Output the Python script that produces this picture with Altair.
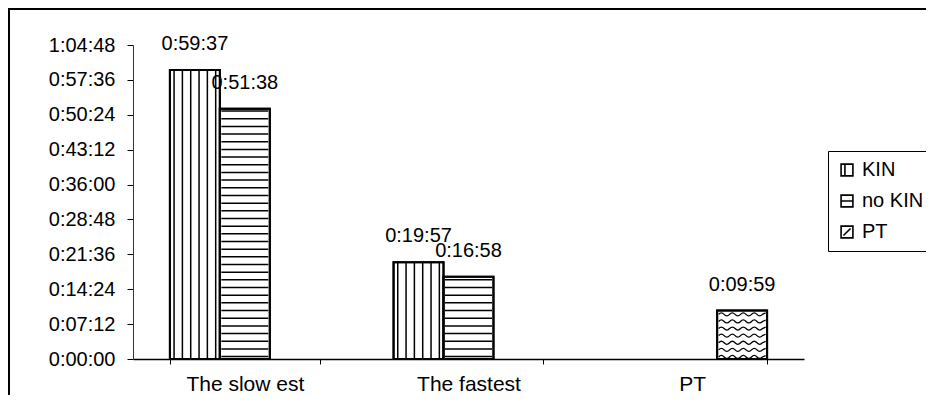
import altair as alt
import pandas as pd

# ---------------- data ----------------
categories = ["The slow est", "The fastest", "PT"]
series = ["KIN", "no KIN", "PT"]
kin_times = ["0:59:37", "0:19:57", None]
no_kin_times = ["0:51:38", "0:16:58", None]
pt_times = [None, None, "0:09:59"]
y_tick_labels = ["0:00:00", "0:07:12", "0:14:24", "0:21:36", "0:28:48",
                 "0:36:00", "0:43:12", "0:50:24", "0:57:36", "1:04:48"]


def to_sec(s):
    h, m, sec = (int(p) for p in s.split(":"))
    return h * 3600 + m * 60 + sec


rows = []
for name, times in zip(series, [kin_times, no_kin_times, pt_times]):
    for cat, t in zip(categories, times):
        if t is None:
            continue
        rows.append({"category": cat, "series": name, "seconds": to_sec(t), "label": t})
bars = pd.DataFrame(rows)
y_ticks = [to_sec(t) for t in y_tick_labels]

# ---------------- pattern helpers (style only) ----------------
V_SLOTS = 6          # vertical stripes per bar
H_STEP = 95          # seconds between horizontal stripes
H_START = 30
W_STEP = 88          # seconds between wave rows
W_START = 25

vrows, hrows, wrows = [], [], []
for r in rows:
    si = series.index(r["series"])
    if r["series"] == "KIN":
        for j in range(V_SLOTS):
            vrows.append({"category": r["category"], "slot": si * V_SLOTS + j, "seconds": r["seconds"]})
    elif r["series"] == "no KIN":
        y = H_START
        while y < r["seconds"] - 25:
            hrows.append({"category": r["category"], "series": r["series"], "seconds": y})
            y += H_STEP
    else:
        y = W_START
        while y < r["seconds"] - 40:
            wrows.append({"category": r["category"], "series": r["series"], "seconds": y})
            y += W_STEP
vstripes = pd.DataFrame(vrows)
hstripes = pd.DataFrame(hrows)
waves = pd.DataFrame(wrows)

FONT = "Liberation Sans"
W, H = 671, 314

x_enc = alt.X("category:N", sort=categories,
              scale=alt.Scale(domain=categories, paddingInner=0.33, paddingOuter=0.165),
              axis=alt.Axis(title=None, tickBand="extent", tickSize=5, labelAngle=0,
                            labelFont=FONT, labelFontSize=21, labelColor="black",
                            labelPadding=9, domainColor="black", domainWidth=1.5,
                            tickColor="black", tickWidth=1, grid=False))
label_expr = ("floor(datum.value/3600) + ':' + (floor(datum.value/60)%60 < 10 ? '0' : '') + "
              "floor(datum.value/60)%60 + ':' + (datum.value%60 < 10 ? '0' : '') + datum.value%60")
y_scale = alt.Scale(domain=[0, y_ticks[-1]], nice=False, zero=True)
y_enc = alt.Y("seconds:Q", scale=y_scale,
              axis=alt.Axis(title=None, values=y_ticks, labelExpr=label_expr, grid=False,
                            tickSize=6, tickColor="black", domainColor="#333333", domainWidth=1,
                            labelFont=FONT, labelFontSize=20, labelColor="black",
                            labelPadding=12))
xoff_series = alt.XOffset("series:N", scale=alt.Scale(type="band", domain=series,
                                                      paddingInner=0, paddingOuter=0))

one = pd.DataFrame({"f": [0]})
frame_top = alt.Chart(one).mark_rule(color="black", strokeWidth=2, clip=False).encode(
    x=alt.value(-125), x2=alt.value(W + 300), y=alt.value(-36))
frame_left = alt.Chart(one).mark_rule(color="black", strokeWidth=2, clip=False).encode(
    x=alt.value(-124), y=alt.value(-37), y2=alt.value(H + 200))

base_bars = alt.Chart(bars).mark_bar(fill="white", stroke="black", strokeWidth=2).encode(
    x=x_enc, xOffset=xoff_series, y=y_enc)

vlayer = alt.Chart(vstripes).mark_rule(color="black", strokeWidth=1.5).encode(
    x=x_enc,
    xOffset=alt.XOffset("slot:O", scale=alt.Scale(type="band", domain=list(range(3 * V_SLOTS)),
                                                  paddingInner=0, paddingOuter=0)),
    y=y_enc, y2=alt.datum(0))

hlayer = alt.Chart(hstripes).mark_tick(color="black", thickness=1.5, size=47, opacity=1).encode(
    x=x_enc, xOffset=xoff_series, y=y_enc)

wave_path = ("M-1,0 Q-0.883,-0.13 -0.767,0 T-0.533,0 T-0.3,0 T-0.067,0 T0.167,0 T0.4,0 T0.633,0 T0.867,0 L1,-0.06")
wlayer = alt.Chart(waves).mark_point(shape=wave_path, size=47 * 47, filled=False,
                                     color="black", strokeWidth=1.3, opacity=1).encode(
    x=x_enc, xOffset=xoff_series, y=y_enc)

outline = alt.Chart(bars).mark_bar(fillOpacity=0, stroke="black", strokeWidth=2).encode(
    x=x_enc, xOffset=xoff_series, y=y_enc)

text = alt.Chart(bars).mark_text(dy=-26, baseline="middle", align="center",
                                 font=FONT, fontSize=20, color="black").encode(
    x=x_enc, xOffset=xoff_series, y=y_enc, text="label:N")

legend_paths = [
    "M-1,-1H1V1H-1Z M-0.35,-1V1",
    "M-1,-1H1V1H-1Z M-1,0H1",
    "M-1,-1H1V1H-1Z M-0.6,0.6L0.6,-0.6",
]
legend_layer = alt.Chart(bars).mark_point(filled=False, color="black", opacity=0).encode(
    x=x_enc, xOffset=xoff_series, y=y_enc,
    shape=alt.Shape("series:N", scale=alt.Scale(domain=series, range=legend_paths),
                    legend=alt.Legend(title=None, orient="none", legendX=695, legendY=106,
                                      strokeColor="black", fillColor="white", padding=9,
                                      labelFont=FONT, labelFontSize=20, labelColor="black",
                                      symbolSize=140, symbolStrokeWidth=1.6,
                                      symbolStrokeColor="black", symbolFillColor="white",
                                      symbolOpacity=1, rowPadding=11, labelOffset=5)))

chart = alt.layer(frame_top, frame_left, base_bars, vlayer, hlayer, wlayer, outline, text,
                  legend_layer).resolve_scale(
    xOffset="independent"
).properties(
    width=W, height=H,
    autosize=alt.AutoSizeParams(type="none"),
    padding={"left": 125, "top": 37, "right": 122, "bottom": 36},
    background="white",
).configure_view(stroke=None)

chart.save("out.html", embed_options={"renderer": "svg", "actions": False})
